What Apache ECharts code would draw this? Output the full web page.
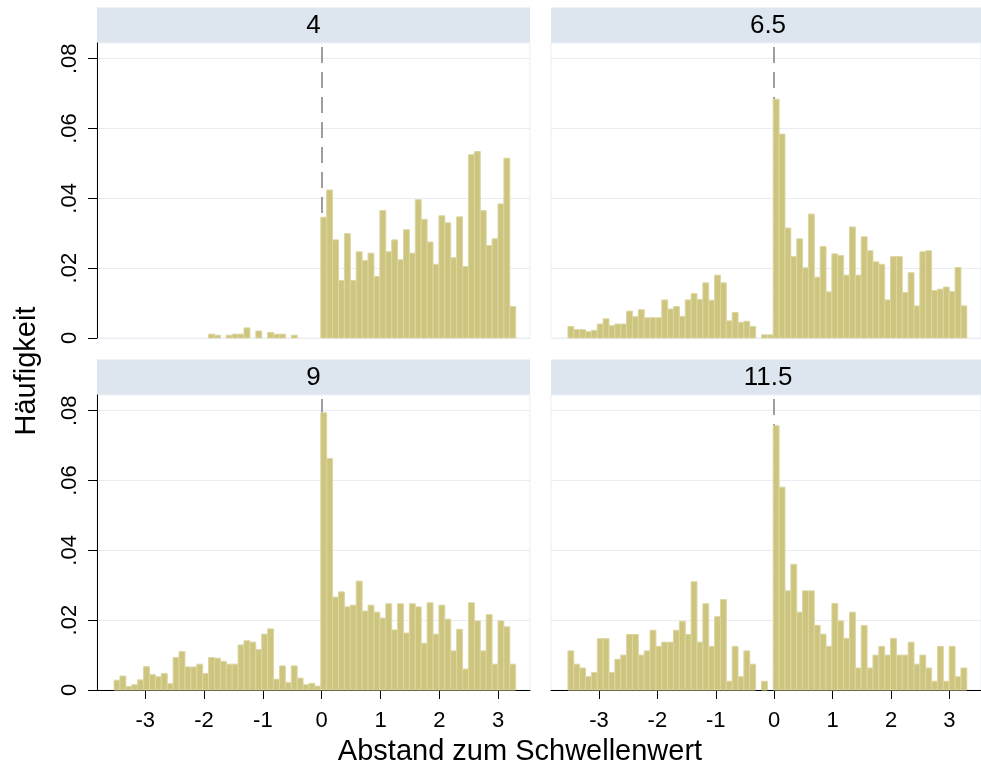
<!DOCTYPE html>
<html><head><meta charset="utf-8">
<script src="https://cdn.jsdelivr.net/npm/echarts@6/dist/echarts.min.js"></script>
<style>html,body{margin:0;padding:0;background:#fff}#c{width:981px;height:776px}</style>
</head><body><div id="c"></div>
<script>
// ---- data ----
const panelTitles = ['4', '6.5', '9', '11.5'];
const binStart = -3.53;
const binWidth = 0.1004;
const freq4 = [
  0,0,0,0,0,0,0,0,0,0,0,0,0,0,0,0,
  .0011,.0008,0,.0008,.0011,.0011,.0029,0,.0020,0,.0016,.0011,.0011,0,.0008,0,0,0,0,
  .0346,.0424,.0281,.0165,.0299,.0165,.0247,.0222,.0243,.0176,.0365,.0247,.0281,.0224,.0310,.0243,.0396,
  .0340,.0275,.0211,.0350,.0330,.0230,.0347,.0205,.0525,.0534,.0365,.0265,.0284,.0384,.0515,.0090
];
const freq65 = [
  .0033,.0024,.0024,.0018,.0022,.0040,.0055,.0035,.0040,.0040,.0077,.0061,.0081,.0058,.0058,.0058,.0109,
  .0083,.0090,.0062,.0109,.0127,.0110,.0158,.0108,.0180,.0158,.0049,.0073,.0045,.0048,.0033,0,.0009,.0009,
  .0684,.0584,.0315,.0233,.0284,.0201,.0355,.0174,.0262,.0132,.0241,.0236,.0180,.0318,.0180,.0290,.0250,
  .0218,.0211,.0109,.0233,.0233,.0130,.0187,.0092,.0247,.0250,.0136,.0140,.0146,.0133,.0202,.0092
];
const freq9 = [
  .0028,.0040,.0010,.0015,.0029,.0067,.0044,.0038,.0047,.0018,.0093,.0110,.0066,.0066,.0074,.0047,.0093,
  .0091,.0082,.0074,.0074,.0129,.0141,.0137,.0116,.0160,.0175,.0031,.0069,.0021,.0069,.0034,.0015,.0019,.0011,
  .0794,.0663,.0266,.0281,.0238,.0243,.0312,.0226,.0243,.0223,.0206,.0247,.0172,.0247,.0163,.0247,.0238,
  .0134,.0250,.0160,.0243,.0203,.0112,.0174,.0060,.0250,.0198,.0112,.0216,.0074,.0198,.0181,.0074
];
const freq115 = [
  .0112,.0074,.0063,.0038,.0050,.0147,.0147,.0050,.0088,.0100,.0159,.0159,.0100,.0112,.0171,.0125,.0137,
  .0137,.0171,.0197,.0159,.0310,.0137,.0247,.0125,.0210,.0259,.0025,.0125,.0038,.0112,.0074,0,.0025,0,
  .0757,.0581,.0284,.0360,.0223,.0284,.0284,.0185,.0160,.0125,.0248,.0198,.0148,.0223,.0063,.0185,.0063,
  .0100,.0125,.0100,.0148,.0100,.0100,.0137,.0074,.0100,.0063,.0025,.0125,.0025,.0125,.0038,.0063
];
const xTicks = [-3, -2, -1, 0, 1, 2, 3];
const yTicks = [0, 0.02, 0.04, 0.06, 0.08];
const yTickLabels = ['0', '.02', '.04', '.06', '.08'];
const thresholdX = 0;
const xTitle = 'Abstand zum Schwellenwert';
const yTitle = 'Häufigkeit';

// ---- layout/style ----
const FONT = "'Liberation Sans', Arial, sans-serif";
const xMin = -3.82, xMax = 3.54, yMax = 0.0845;
const grids = [
  {left: 97, top: 43, width: 433, height: 295},
  {left: 551, top: 43, width: 434, height: 295},
  {left: 97, top: 395, width: 433, height: 295},
  {left: 551, top: 395, width: 434, height: 295}
];
const allFreq = [freq4, freq65, freq9, freq115];

function toBins(vals) {
  const out = [];
  vals.forEach((v, i) => {
    if (v > 0) out.push([binStart + i * binWidth, binStart + (i + 1) * binWidth, v]);
  });
  return out;
}
function renderBar(params, api) {
  const a = api.coord([api.value(0), 0]);
  const b = api.coord([api.value(1), api.value(2)]);
  return {
    type: 'rect',
    shape: {x: a[0], y: b[1], width: b[0] - a[0], height: a[1] - b[1]},
    style: {fill: '#cdc47e', stroke: '#dcd6a3', lineWidth: 1}
  };
}

const chart = echarts.init(document.getElementById('c'), null, {renderer: 'canvas'});
const gridLight = '#e9edf3';

const graphic = [];
grids.forEach((g, i) => {
  const hTop = i < 2 ? 7.5 : 359.5;
  graphic.push({type: 'rect', shape: {x: g.left, y: hTop, width: g.width, height: 35},
    style: {fill: '#dde5ee'}, silent: true});
  graphic.push({type: 'text', x: g.left + g.width / 2, y: hTop + 18,
    style: {text: panelTitles[i], fontSize: 26, fontFamily: FONT, fill: '#000',
      align: 'center', verticalAlign: 'middle'}, silent: true});
});
graphic.push({type: 'text', x: 27, y: 371, rotation: Math.PI / 2,
  style: {text: yTitle, fontSize: 29, fontFamily: FONT, fill: '#000', align: 'center', verticalAlign: 'middle'}});
graphic.push({type: 'text', x: 520, y: 752,
  style: {text: xTitle, fontSize: 29, fontFamily: FONT, fill: '#000', align: 'center', verticalAlign: 'middle'}});

const option = {
  animation: false,
  backgroundColor: '#fff',
  textStyle: {fontFamily: FONT},
  grid: grids.map(g => Object.assign({show: true, borderColor: gridLight, borderWidth: 1, backgroundColor: '#fff'}, g)),
  xAxis: grids.map((g, i) => ({
    type: 'value', gridIndex: i, min: xMin, max: xMax,
    axisLine: {show: i >= 2, onZero: false, lineStyle: {color: '#000', width: 1}},
    axisTick: {show: i >= 2, customValues: xTicks, length: 9, lineStyle: {color: '#000', width: 1}},
    axisLabel: {show: i >= 2, customValues: xTicks, fontSize: 22, color: '#000', margin: 20,
      fontFamily: FONT, formatter: v => String(v)},
    splitLine: {show: false}
  })),
  yAxis: grids.map((g, i) => ({
    type: 'value', gridIndex: i, min: 0, max: yMax, interval: 0.02,
    axisLine: {show: i % 2 === 0, onZero: false, lineStyle: {color: '#000', width: 1}},
    axisTick: {show: i % 2 === 0, customValues: yTicks, length: 9, lineStyle: {color: '#000', width: 1}},
    axisLabel: {show: i % 2 === 0, customValues: yTicks, rotate: 90, fontSize: 22, color: '#000', margin: 16,
      fontFamily: FONT,
      formatter: v => { const k = yTicks.findIndex(t => Math.abs(t - v) < 1e-9); return k >= 0 ? yTickLabels[k] : ''; }},
    splitLine: {show: true, lineStyle: {color: gridLight, width: 1}}
  })),
  series: []
};
grids.forEach((g, i) => {
  option.series.push({
    type: 'line', xAxisIndex: i, yAxisIndex: i, data: [], z: 1, silent: true,
    markLine: {silent: true, z: 1, symbol: ['none', 'none'], label: {show: false},
      lineStyle: {color: '#7f7f7f', width: 1.5, type: [16, 9]},
      emphasis: {disabled: true},
      data: [{xAxis: thresholdX}]}
  });
  option.series.push({
    type: 'custom', xAxisIndex: i, yAxisIndex: i, z: 10, silent: true,
    renderItem: renderBar, encode: {x: [0, 1], y: 2},
    data: toBins(allFreq[i])
  });
});
option.graphic = graphic;
chart.setOption(option);
</script>
</body></html>
